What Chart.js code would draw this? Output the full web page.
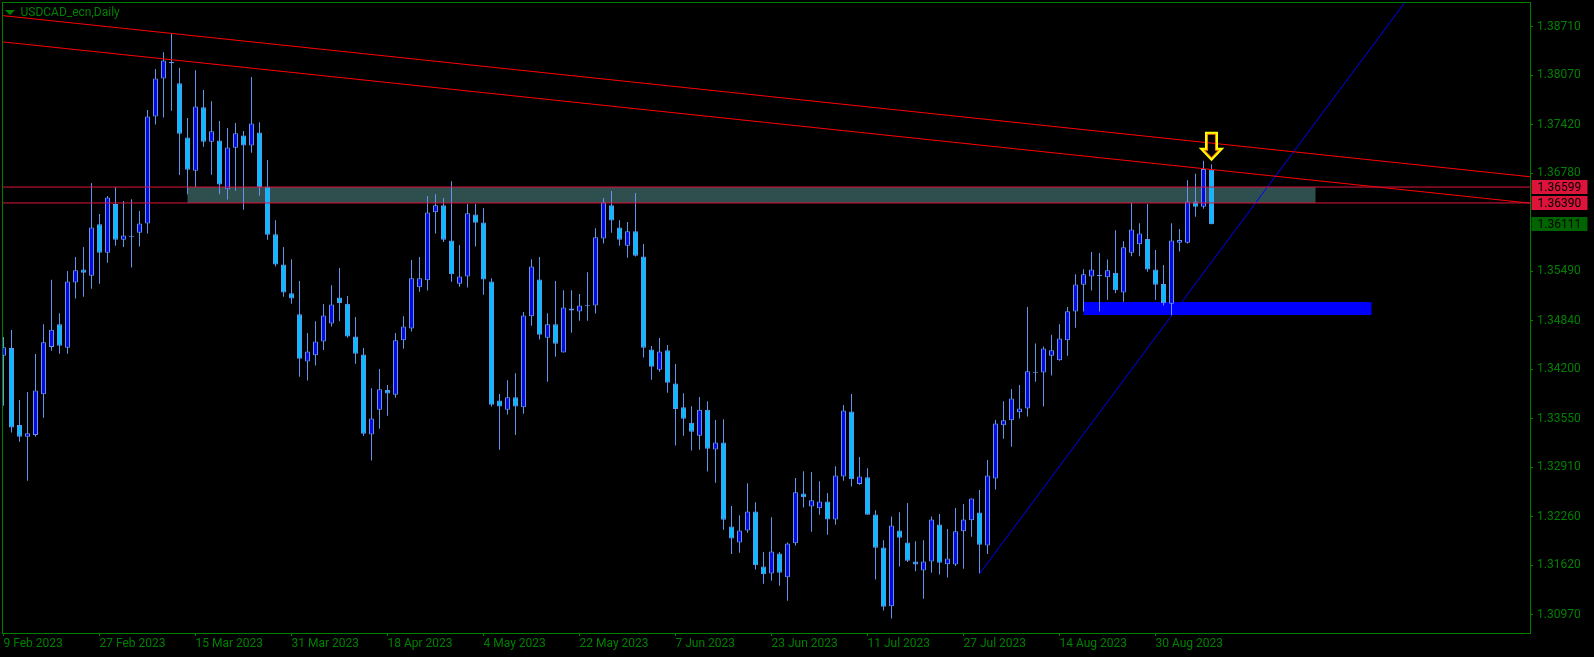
<!DOCTYPE html>
<html lang="en">
<head>
<meta charset="UTF-8">
<title>USDCAD_ecn,Daily</title>
<script src="https://cdn.jsdelivr.net/npm/chart.js"></script>
<style>
  html, body { margin: 0; padding: 0; background: #000; overflow: hidden; }
  canvas { display: block; }
</style>
</head>
<body>
<canvas id="chart" width="1594" height="657"></canvas>
<script>
  // daily bars, 9 Feb 2023 -> early Sep 2023 (bar index 0..151)
  const opens = [
    1.34380, 1.34481, 1.33469, 1.33313, 1.33338, 1.33872, 1.34496, 1.34793, 1.34486, 1.35342,
    1.35514, 1.35433, 1.36108, 1.35735, 1.36375, 1.35906, 1.35937, 1.35997, 1.36118, 1.37528,
    1.38027, 1.38243, 1.37966, 1.37251, 1.36813, 1.37649, 1.37196, 1.37211, 1.36571, 1.37115,
    1.37276, 1.37145, 1.37316, 1.36606, 1.35977, 1.35579, 1.35201, 1.34924, 1.34305, 1.34386,
    1.34567, 1.34804, 1.35146, 1.35065, 1.34632, 1.34396, 1.33343, 1.33670, 1.33927, 1.33867,
    1.34582, 1.34738, 1.35282, 1.35373, 1.36269, 1.36360, 1.35896, 1.35327, 1.35423, 1.36239,
    1.36133, 1.35357, 1.33791, 1.33670, 1.33832, 1.33701, 1.34899, 1.35383, 1.34617, 1.34793,
    1.34421, 1.35000, 1.34960, 1.35030, 1.35040, 1.35921, 1.36360, 1.36068, 1.35826, 1.36017,
    1.35685, 1.34461, 1.34194, 1.34451, 1.34013, 1.33701, 1.33499, 1.33328, 1.33670, 1.33147,
    1.33237, 1.32134, 1.31923, 1.32079, 1.32331, 1.31606, 1.31515, 1.31777, 1.31465, 1.31913,
    1.32568, 1.32396, 1.32371, 1.32462, 1.32225, 1.32789, 1.33645, 1.32693, 1.32779, 1.32291,
    1.31857, 1.31082, 1.32079, 1.31923, 1.31671, 1.31555, 1.31671, 1.32160, 1.31636, 1.31631,
    1.32069, 1.32215, 1.32316, 1.31883, 1.32764, 1.33464, 1.33529, 1.33635, 1.33686, 1.34154,
    1.34159, 1.34380, 1.34320, 1.34582, 1.34960, 1.35312, 1.35423, 1.35428, 1.35413, 1.35473,
    1.35211, 1.35735, 1.35846, 1.35916, 1.35514, 1.35322, 1.35065, 1.35866, 1.35866, 1.36410,
    1.36339, 1.36828
  ];
  const highs = [
    1.34627, 1.34718, 1.33796, 1.33902, 1.34401, 1.34793, 1.35378, 1.34939, 1.35493, 1.35680,
    1.35811, 1.36652, 1.36244, 1.36480, 1.36596, 1.36415, 1.36440, 1.36284, 1.37614, 1.38152,
    1.38374, 1.38616, 1.38168, 1.37508, 1.38137, 1.37875, 1.37729, 1.37468, 1.37377, 1.37442,
    1.37337, 1.38047, 1.37452, 1.36954, 1.36163, 1.35811, 1.35650, 1.35362, 1.34678, 1.34834,
    1.35060, 1.35307, 1.35534, 1.35166, 1.34889, 1.34481, 1.33952, 1.34204, 1.33993, 1.34678,
    1.34899, 1.35639, 1.35680, 1.36480, 1.36506, 1.36455, 1.36677, 1.35836, 1.36375, 1.36375,
    1.36324, 1.35398, 1.33877, 1.34058, 1.34149, 1.34955, 1.35650, 1.35680, 1.34939, 1.35362,
    1.35242, 1.35242, 1.35191, 1.35478, 1.36057, 1.36455, 1.36546, 1.36163, 1.36138, 1.36521,
    1.35851, 1.34506, 1.34612, 1.34521, 1.34270, 1.33887, 1.33716, 1.33837, 1.33781, 1.33534,
    1.33545, 1.32401, 1.32280, 1.32703, 1.32452, 1.31797, 1.32255, 1.31797, 1.31923, 1.32769,
    1.32860, 1.32850, 1.32729, 1.32573, 1.32925, 1.33731, 1.33877, 1.33046, 1.32900, 1.32346,
    1.31953, 1.32265, 1.32321, 1.32442, 1.31938, 1.31953, 1.32265, 1.32296, 1.32099, 1.32376,
    1.32427, 1.32502, 1.32613, 1.33006, 1.33534, 1.33781, 1.33942, 1.33993, 1.35020, 1.34542,
    1.34501, 1.34657, 1.34793, 1.35020, 1.35453, 1.35519, 1.35745, 1.35730, 1.35645, 1.36032,
    1.35886, 1.36395, 1.36123, 1.36375, 1.35770, 1.35574, 1.36123, 1.36047, 1.36687, 1.36773,
    1.36944, 1.36898
  ];
  const lows = [
    1.33721, 1.33368, 1.33247, 1.32734, 1.33313, 1.33565, 1.34446, 1.34406, 1.34406, 1.35131,
    1.35156, 1.35262, 1.35327, 1.35604, 1.35826, 1.35811, 1.35539, 1.35816, 1.35987, 1.37422,
    1.37513, 1.37604, 1.36757, 1.36506, 1.36601, 1.37130, 1.36762, 1.36506, 1.36435, 1.36551,
    1.36299, 1.37050, 1.36486, 1.35906, 1.35554, 1.35156, 1.35065, 1.34103, 1.34053, 1.34250,
    1.34456, 1.34763, 1.34834, 1.34617, 1.34275, 1.33323, 1.33001, 1.33419, 1.33590, 1.33827,
    1.34471, 1.34698, 1.35221, 1.35237, 1.35987, 1.35876, 1.35352, 1.35287, 1.35277, 1.35816,
    1.35181, 1.33711, 1.33142, 1.33605, 1.33338, 1.33615, 1.34773, 1.34592, 1.34038, 1.34365,
    1.34421, 1.34683, 1.34839, 1.34839, 1.34934, 1.35856, 1.35997, 1.35826, 1.35670, 1.35685,
    1.34355, 1.34063, 1.34169, 1.33892, 1.33197, 1.33328, 1.33132, 1.33142, 1.32855, 1.32709,
    1.32089, 1.31772, 1.31787, 1.32049, 1.31565, 1.31379, 1.31419, 1.31354, 1.31157, 1.31883,
    1.32381, 1.32064, 1.32286, 1.32024, 1.32155, 1.32734, 1.32658, 1.32683, 1.32286, 1.31434,
    1.31027, 1.30921, 1.31606, 1.31666, 1.31545, 1.31183, 1.31525, 1.31500, 1.31460, 1.31611,
    1.31575, 1.31998, 1.31510, 1.31772, 1.32618, 1.33288, 1.33182, 1.33555, 1.33580, 1.34038,
    1.33711, 1.34119, 1.34315, 1.34380, 1.34748, 1.34960, 1.35237, 1.34960, 1.35116, 1.35201,
    1.35091, 1.35690, 1.35690, 1.35483, 1.35116, 1.35040, 1.34904, 1.35750, 1.35856, 1.36209,
    1.36314, 1.36111
  ];
  const closes = [
    1.34491, 1.33434, 1.33313, 1.33358, 1.33922, 1.34557, 1.34723, 1.34511, 1.35357, 1.35504,
    1.35473, 1.36068, 1.35735, 1.36460, 1.35906, 1.35962, 1.35937, 1.36118, 1.37528, 1.38027,
    1.38263, 1.38228, 1.37301, 1.36828, 1.37659, 1.37196, 1.37332, 1.36632, 1.37120, 1.37306,
    1.37145, 1.37437, 1.36601, 1.35972, 1.35579, 1.35211, 1.35131, 1.34340, 1.34436, 1.34567,
    1.34909, 1.35055, 1.35075, 1.34632, 1.34406, 1.33353, 1.33555, 1.33937, 1.33882, 1.34582,
    1.34763, 1.35398, 1.35398, 1.36264, 1.36360, 1.35906, 1.35453, 1.35423, 1.36254, 1.36128,
    1.35383, 1.33736, 1.33711, 1.33832, 1.33711, 1.34909, 1.35554, 1.34657, 1.34793, 1.34537,
    1.35015, 1.34975, 1.35040, 1.35030, 1.35937, 1.36400, 1.36158, 1.35906, 1.36017, 1.35695,
    1.34486, 1.34234, 1.34436, 1.34023, 1.33680, 1.33550, 1.33378, 1.33670, 1.33157, 1.33237,
    1.32220, 1.31973, 1.32079, 1.32331, 1.31621, 1.31505, 1.31802, 1.31525, 1.31908, 1.32583,
    1.32517, 1.32477, 1.32462, 1.32225, 1.32804, 1.33660, 1.32754, 1.32789, 1.32286, 1.31852,
    1.31077, 1.32144, 1.31983, 1.31681, 1.31631, 1.31671, 1.32225, 1.31656, 1.31711, 1.32069,
    1.32225, 1.32502, 1.31893, 1.32804, 1.33489, 1.33529, 1.33816, 1.33686, 1.34174, 1.34164,
    1.34476, 1.34451, 1.34607, 1.34965, 1.35317, 1.35453, 1.35514, 1.35433, 1.35504, 1.35242,
    1.35806, 1.36042, 1.35987, 1.35514, 1.35312, 1.35070, 1.35896, 1.35901, 1.36410, 1.36339,
    1.36838, 1.36111
  ];

  const priceTicks = [1.30970, 1.31620, 1.32260, 1.32910, 1.33550, 1.34200, 1.34840, 1.35490, 1.36780, 1.37420, 1.38070, 1.38710];
  const dateTickBars = [0, 12, 24, 36, 48, 60, 72, 84, 96, 108, 120, 132, 144];
  const dateTicks = ['9 Feb 2023', '27 Feb 2023', '15 Mar 2023', '31 Mar 2023', '18 Apr 2023', '4 May 2023',
    '22 May 2023', '7 Jun 2023', '23 Jun 2023', '11 Jul 2023', '27 Jul 2023', '14 Aug 2023', '30 Aug 2023'];

  // drawn objects
  const levelPrices = [1.36599, 1.36390];      // horizontal lines, also the grey zone edges
  const zoneBars = [23, 164];
  const supportBars = [135, 171];
  const supportPrices = [1.35086, 1.34915];
  const channelTop = [[0, 1.38854], [150, 1.37188]];
  const channelBottom = [[0, 1.38508], [150, 1.36841]];
  const trendUp = [[122, 1.31510], [146, 1.34904]];
  const arrowBar = 151;
  const lastPrice = 1.36111;

  const X_MIN = -0.0625, X_MAX = 190.8125;
  const Y_MIN = 1.30731, Y_MAX = 1.39021;
  const GREEN = '#008000';
  const FONT = 'Roboto';

  function ray(pts, from, to) {
    const [[x0, y0], [x1, y1]] = pts;
    const k = (y1 - y0) / (x1 - x0);
    return [{ x: from, y: y0 + (from - x0) * k }, { x: to, y: y0 + (to - x0) * k }];
  }

  const wickData = highs.map((h, i) => ({ x: i, y: [lows[i], h] }));
  const bodyData = opens.map((o, i) => ({ x: i, y: [o, closes[i]] }));
  const bodyColors = opens.map((o, i) => closes[i] >= o ? '#0a0ae0' : '#00bfff');

  function lineSet(data, color) {
    return { type: 'line', data: data, borderColor: color, borderWidth: 1, pointRadius: 0, fill: false, tension: 0 };
  }

  const overlay = {
    id: 'overlay',
    beforeDatasetsDraw(chart) {
      const { ctx, chartArea: a, scales: { x, y } } = chart;
      ctx.save();
      ctx.beginPath();
      ctx.rect(a.left, a.top, a.right - a.left, a.bottom - a.top);
      ctx.clip();
      // grey resistance zone
      let x0 = x.getPixelForValue(zoneBars[0]), x1 = x.getPixelForValue(zoneBars[1]);
      let y0 = y.getPixelForValue(levelPrices[0]), y1 = y.getPixelForValue(levelPrices[1]);
      ctx.fillStyle = '#2f4f4f';
      ctx.fillRect(x0, y0, x1 - x0, y1 - y0);
      // blue support block
      x0 = x.getPixelForValue(supportBars[0]); x1 = x.getPixelForValue(supportBars[1]);
      y0 = y.getPixelForValue(supportPrices[0]); y1 = y.getPixelForValue(supportPrices[1]);
      ctx.fillStyle = '#0000ff';
      ctx.fillRect(x0, y0, x1 - x0, y1 - y0);
      ctx.restore();
    },
    afterDatasetsDraw(chart) {
      const { ctx, scales: { x, y } } = chart;
      const cx = x.getPixelForValue(arrowBar);
      const tip = y.getPixelForValue(highs[arrowBar]) - 4.5;
      const pts = [[-5.5, -27], [5.5, -27], [5.5, -11], [10.5, -11], [0, 0], [-10.5, -11], [-5.5, -11]];
      ctx.save();
      ctx.beginPath();
      pts.forEach(([dx, dy], i) => i ? ctx.lineTo(cx + dx, tip + dy) : ctx.moveTo(cx + dx, tip + dy));
      ctx.closePath();
      ctx.save();
      ctx.clip();
      ctx.strokeStyle = '#ff7f00';
      ctx.lineWidth = 4;
      ctx.stroke();
      ctx.restore();
      ctx.strokeStyle = '#ffff00';
      ctx.lineWidth = 2;
      ctx.lineJoin = 'miter';
      ctx.stroke();
      ctx.restore();
    },
    afterDraw(chart) {
      const { ctx, chartArea: a, scales: { y } } = chart;
      ctx.save();
      // frame
      ctx.strokeStyle = GREEN;
      ctx.lineWidth = 1;
      ctx.strokeRect(a.left - 0.5, a.top - 0.5, a.right - a.left + 1, a.bottom - a.top + 1);
      // title
      ctx.fillStyle = GREEN;
      ctx.beginPath();
      ctx.moveTo(5, 10); ctx.lineTo(15, 10); ctx.lineTo(10, 15); ctx.closePath();
      ctx.fill();
      ctx.font = '12px ' + FONT;
      ctx.textBaseline = 'middle';
      ctx.textAlign = 'left';
      ctx.fillText('USDCAD_ecn,Daily', 20.5, 12.5);
      // price labels on the axis
      const tags = [[levelPrices[0], '#dc143c'], [levelPrices[1], '#dc143c'], [lastPrice, '#006400']];
      tags.forEach(([p, bg]) => {
        const py = Math.round(y.getPixelForValue(p));
        ctx.fillStyle = bg;
        ctx.fillRect(a.right + 1.5, py - 7, 56, 14);
        ctx.fillStyle = '#000';
        ctx.fillText(p.toFixed(5), a.right + 7.5, py + 0.5);
      });
      ctx.restore();
    }
  };

  new Chart(document.getElementById('chart'), {
    type: 'bar',
    data: {
      datasets: [
        lineSet([{ x: X_MIN, y: levelPrices[0] }, { x: X_MAX, y: levelPrices[0] }], '#dc143c'),
        lineSet([{ x: X_MIN, y: levelPrices[1] }, { x: X_MAX, y: levelPrices[1] }], '#dc143c'),
        lineSet(ray(channelTop, X_MIN, X_MAX), '#ff0000'),
        lineSet(ray(channelBottom, X_MIN, X_MAX), '#ff0000'),
        lineSet(ray(trendUp, trendUp[0][0], X_MAX), '#0000ff'),
        {
          type: 'bar', data: bodyData, backgroundColor: bodyColors, borderColor: '#6495ed',
          borderWidth: 1, borderSkipped: false, barThickness: 5, minBarLength: 1,
          grouped: false, inflateAmount: 0, clip: 0
        },
        {
          type: 'bar', data: wickData, backgroundColor: '#6495ed', borderWidth: 0,
          barThickness: 1, grouped: false, inflateAmount: 0, clip: 0
        }
      ]
    },
    options: {
      responsive: false,
      animation: false,
      events: [],
      layout: { padding: { left: 3, top: 3, right: 0, bottom: 0 } },
      plugins: { legend: { display: false }, tooltip: { enabled: false } },
      scales: {
        x: {
          type: 'linear', min: X_MIN, max: X_MAX, offset: false,
          grid: { display: true, drawOnChartArea: false, tickLength: 3, color: GREEN, offset: false },
          border: { display: false },
          afterBuildTicks: s => { s.ticks = dateTickBars.map(v => ({ value: v })); },
          afterFit: s => { s.height = 24; s.paddingLeft = 0; s.paddingRight = 0; },
          ticks: {
            color: GREEN, font: { family: FONT, size: 12 }, padding: 1, align: 'start',
            maxRotation: 0, autoSkip: false,
            callback: v => dateTicks[dateTickBars.indexOf(v)]
          }
        },
        y: {
          type: 'linear', position: 'right', min: Y_MIN, max: Y_MAX,
          grid: { display: true, drawOnChartArea: false, tickLength: 3, color: GREEN },
          border: { display: false },
          afterBuildTicks: s => { s.ticks = priceTicks.map(v => ({ value: v })); },
          afterFit: s => { s.width = 64; s.paddingTop = 0; s.paddingBottom = 0; },
          ticks: {
            color: GREEN, font: { family: FONT, size: 12 }, padding: 4, autoSkip: false,
            callback: v => v.toFixed(5)
          }
        }
      }
    },
    plugins: [overlay]
  });
</script>
</body>
</html>
